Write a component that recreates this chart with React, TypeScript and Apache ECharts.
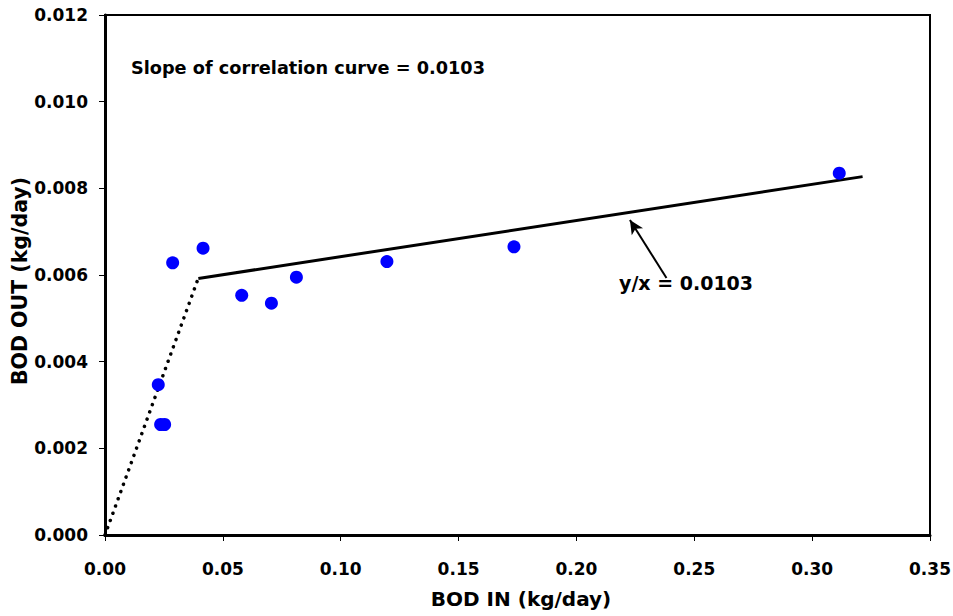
import React, { useEffect, useRef } from "react";
import * as echarts from "echarts";

const pointsX = [0.0226, 0.0236, 0.0253, 0.0287, 0.0416, 0.058, 0.0706, 0.0812, 0.1196, 0.1735, 0.3115];
const pointsY = [0.00347, 0.00255, 0.00255, 0.00628, 0.00662, 0.00553, 0.00535, 0.00595, 0.00631, 0.00665, 0.00835];
const fitLine = [[0.0396, 0.00592], [0.3214, 0.00827]];
const dottedLine = [[0, 0], [0.0394, 0.0059]];
const arrowFrom = [0.2382, 0.00593];
const arrowTo = [0.2227, 0.00727];

export default function App() {
  const ref = useRef<HTMLDivElement>(null);
  useEffect(() => {
    const chart = echarts.init(ref.current!, null, { renderer: "svg" });
    const font = "DejaVu Sans, sans-serif";
    chart.setOption({
      animation: false,
      backgroundColor: "#fff",
      grid: {
        left: 105, right: 23, top: 15, bottom: 81, show: true, borderColor: "#000", borderWidth: 2,
        containLabel: false, outerBoundsMode: "none",
      },
      xAxis: {
        type: "value", min: 0, max: 0.35, interval: 0.05,
        axisLine: { lineStyle: { color: "#000", width: 3 } },
        axisTick: { inside: false, length: 6, lineStyle: { color: "#000", width: 1 } },
        axisLabel: { formatter: (v: number) => v.toFixed(2), fontFamily: font, fontWeight: "bold", fontSize: 17, color: "#000", margin: 25, hideOverlap: false },
        splitLine: { show: false },
      },
      yAxis: {
        type: "value", min: 0, max: 0.012, interval: 0.002,
        axisLine: { lineStyle: { color: "#000", width: 3 } },
        axisTick: { inside: false, length: 6, lineStyle: { color: "#000", width: 1 } },
        axisLabel: { formatter: (v: number) => v.toFixed(3), fontFamily: font, fontWeight: "bold", fontSize: 17, color: "#000", margin: 17 },
        splitLine: { show: false },
      },
      series: [
        {
          type: "line", data: dottedLine, symbol: "none",
          lineStyle: { color: "#000", width: 3.5, type: [0.1, 7.6], cap: "round" },
        },
        {
          type: "line", data: fitLine, symbol: "none",
          lineStyle: { color: "#000", width: 3 },
          markLine: {
            silent: true,
            symbol: ["none", "arrow"],
            symbolSize: [10, 14],
            label: { show: false },
            lineStyle: { color: "#000", width: 2, type: "solid" },
            data: [[{ coord: arrowFrom, symbol: "none" }, { coord: arrowTo, symbol: "arrow" }]],
          },
        },
        {
          type: "scatter",
          data: pointsX.map((x, i) => [x, pointsY[i]]),
          symbolSize: 13,
          itemStyle: { color: "#0000FF", opacity: 1 },
          z: 5,
        },
      ],
      graphic: [
        {
          type: "text", left: 131, top: 59,
          style: { text: "Slope of correlation curve = 0.0103", font: `bold 17.7px ${font}`, fill: "#000" },
        },
        {
          type: "text", left: 619, top: 273,
          style: { text: "y/x = 0.0103", font: `bold 19px ${font}`, fill: "#000" },
        },
        {
          type: "text", x: 521, y: 599,
          style: { text: "BOD IN (kg/day)", font: `bold 20px ${font}`, fill: "#000", align: "center", verticalAlign: "middle" },
        },
        {
          type: "text", x: 20, y: 281, rotation: Math.PI / 2,
          style: { text: "BOD OUT (kg/day)", font: `bold 20.5px ${font}`, fill: "#000", align: "center", verticalAlign: "middle" },
        },
      ],
    });
    return () => chart.dispose();
  }, []);
  return <div ref={ref} style={{ position: "fixed", left: 0, top: 0, width: 953, height: 616 }} />;
}
